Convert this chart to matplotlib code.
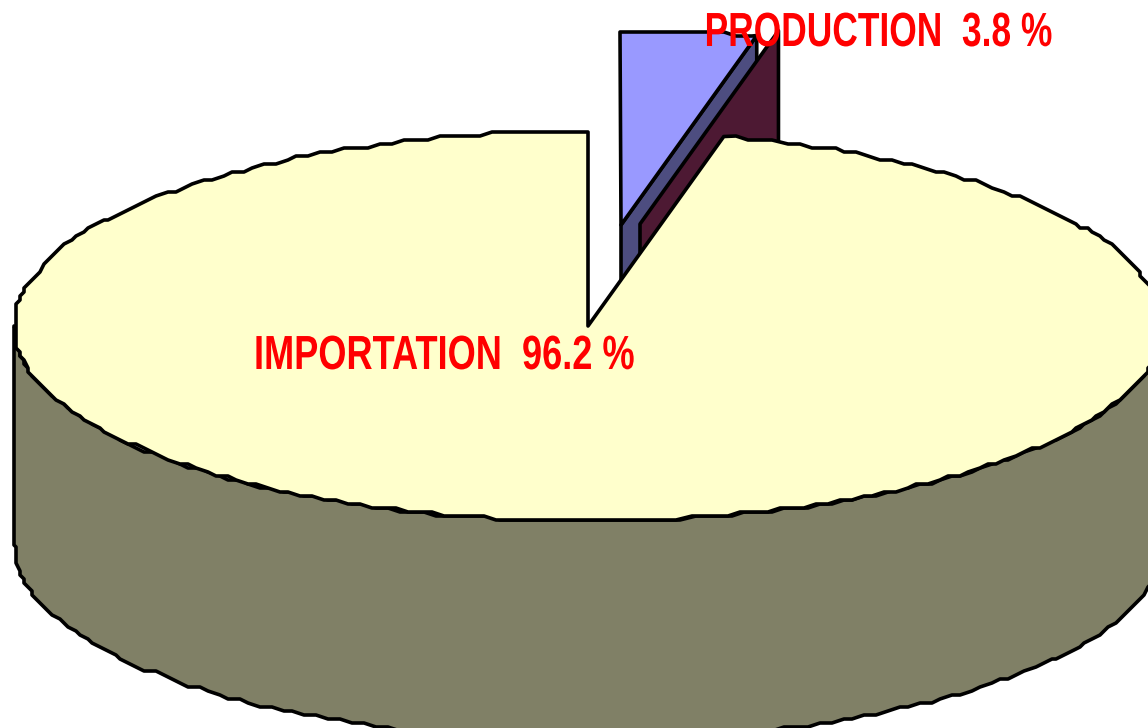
import numpy as np
import matplotlib
matplotlib.use('Agg')
import matplotlib.pyplot as plt
from matplotlib.patches import Polygon
from matplotlib.patheffects import AbstractPathEffect
from matplotlib.transforms import Affine2D

# data
labels = ['IMPORTATION', 'PRODUCTION']
shares = [96.2, 3.8]
label_text = ['IMPORTATION  96.2 %', 'PRODUCTION  3.8 %']

# colours
top_colors = ['#FFFFCC', '#9999FF']
side_colors = ['#808066', '#4D4D80']
inner_color = '#4D1933'
text_color = '#FF0000'

# pie geometry, in pixels of the figure
cx, cy = 588, 326
rx, ry = 574, 195
depth = 219
explode = (33, -101)
inner_shift = (19, -1)
grid = 4
step = 1.3
line_w = 2.6


class Squeeze(AbstractPathEffect):
  # the labels are a narrow bold face, none is installed so squeeze the glyphs sideways
  def __init__(self, sx, x0):
    super().__init__()
    self.sx = sx
    self.x0 = x0

  def draw_path(self, renderer, gc, tpath, affine, rgbFace=None):
    squeeze = Affine2D().translate(-self.x0, 0).scale(self.sx, 1).translate(self.x0, 0)
    renderer.draw_path(gc, tpath, affine + squeeze, rgbFace)


def arc(start, end, x0=cx, y0=cy):
  # angles measured clockwise from the top, rough vertices like the old chart export
  t = np.radians(np.arange(start, end, step))
  x = x0 + rx * np.sin(t)
  y = y0 - ry * np.cos(t)
  x = np.round(x / grid) * grid
  y = np.round(y / grid) * grid
  return np.column_stack([x, y])


def edge_point(angle, x0=cx, y0=cy):
  t = np.radians(angle)
  return np.array([x0 + rx * np.sin(t), y0 - ry * np.cos(t)])


def add_poly(ax, pts, color, z):
  ax.add_patch(Polygon(pts, closed=True, facecolor=color, edgecolor='black',
                       linewidth=line_w, joinstyle='round', zorder=z))


fig = plt.figure(figsize=(11.48, 7.28), dpi=100)
ax = fig.add_axes([0, 0, 1, 1])
ax.set_xlim(0, 1148)
ax.set_ylim(728, 0)
ax.axis('off')

cut = shares[1] / sum(shares) * 360

# exploded slice: cut face, inner wall, then the top
apex = np.array([cx + explode[0], cy + explode[1]])
rim = edge_point(cut, apex[0], apex[1])
down = np.array([0, depth])
add_poly(ax, [apex, rim, rim + down, apex + down], side_colors[1], 1)

shift = np.array(inner_shift)
in_a = apex + shift
in_b = in_a + (rim - apex) * 1.02
add_poly(ax, [in_a, in_b, in_b + down, in_a + down], inner_color, 2)

top_small = np.vstack([[apex], arc(0, cut, apex[0], apex[1]), [rim]])
add_poly(ax, top_small, top_colors[1], 3)

# big slice: outer wall, then the top
front = arc(90, 270)
left = edge_point(270)
right = edge_point(90)
wall = np.vstack([[right], front, [left], [left + down], (front + down)[::-1], [right + down]])
add_poly(ax, wall, side_colors[0], 4)

big_edge = edge_point(cut)
top_big = np.vstack([[[cx, cy]], [big_edge], arc(cut + step, 360), [[cx, arc(0, step)[0, 1]]]])
add_poly(ax, top_big, top_colors[0], 5)

# labels
font = ['Liberation Sans', 'DejaVu Sans']
ax.text(254, 369, label_text[0], color=text_color, fontsize=34.5, fontweight='bold',
        family=font, ha='left', va='baseline', zorder=6, path_effects=[Squeeze(0.755, 254)])
ax.text(1052, 46, label_text[1], color=text_color, fontsize=34.5, fontweight='bold',
        family=font, ha='right', va='baseline', zorder=6, path_effects=[Squeeze(0.738, 1052)])

fig.savefig('out.png', dpi=100)
